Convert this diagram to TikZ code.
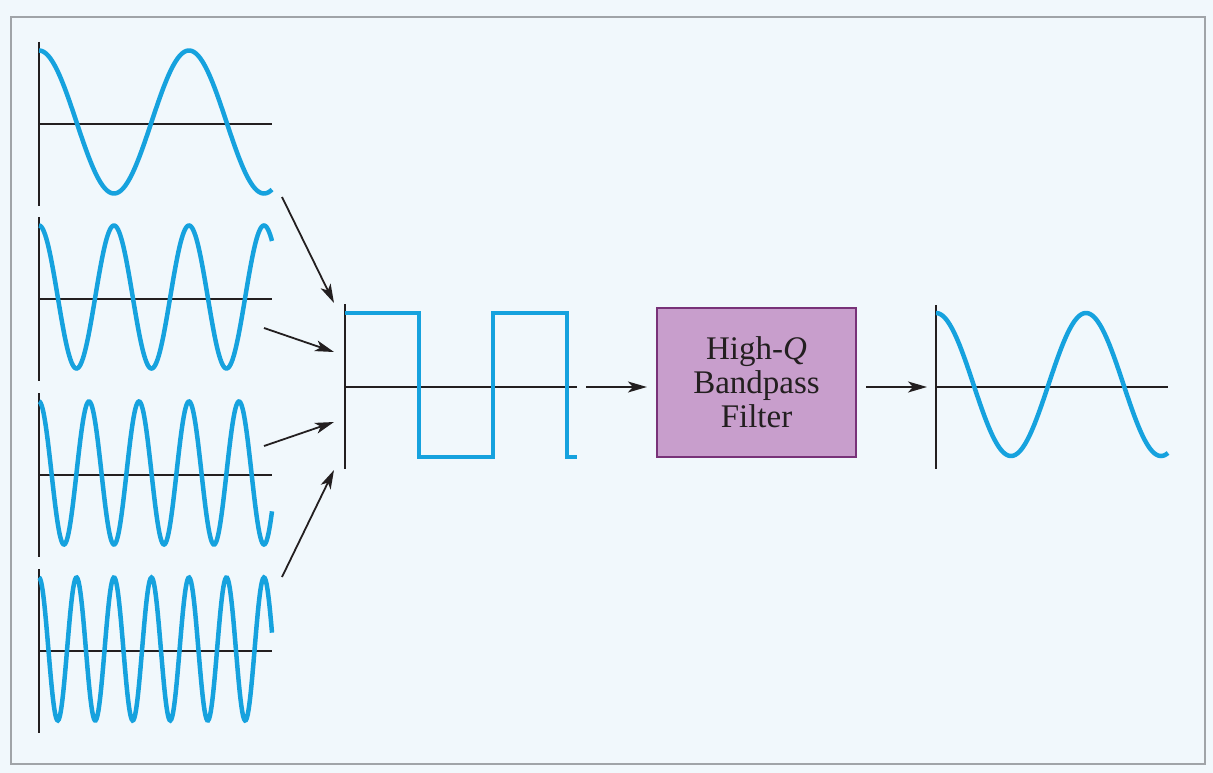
\documentclass[tikz,border=0pt]{standalone}
\usepackage{fontspec}
\setmainfont{Liberation Serif}
\usetikzlibrary{arrows.meta}
\definecolor{bg}{RGB}{241,248,252}
\definecolor{framec}{RGB}{160,164,168}
\definecolor{wv}{RGB}{22,162,222}
\definecolor{ink}{RGB}{35,31,32}
\definecolor{boxfill}{RGB}{200,158,204}
\definecolor{boxline}{RGB}{120,50,120}
\begin{document}
\begin{tikzpicture}[x=1pt,y=-1pt,
  wave/.style={wv, line width=4.5pt},
  axisline/.style={ink, line width=2.2pt},
  arr/.style={ink, line width=1.8pt, -{Stealth[length=19pt,width=11pt,inset=5pt]}},
  filterbox/.style={draw=boxline, fill=boxfill, line width=2.2pt, minimum width=199pt, minimum height=149pt,
     align=center, text=ink, font=\fontsize{33}{34}\selectfont, inner sep=0pt}]
\useasboundingbox (0,0) rectangle (1213,773);
\fill[bg] (0,0) rectangle (1213,773);
\draw[framec, line width=2.2pt] (11,17) rectangle (1205,764);
% input waves
\foreach \k/\c in {1/124, 2/299, 3/475, 4/651} {
  \draw[axisline] (39,\c-82) -- (39,\c+82);
  \draw[axisline] (39,\c) -- (272,\c);
  \draw[wave] plot[domain=0:233, samples=260, variable=\t] ({39+\t}, {\c-2-71.5*cos(2.4*\k*\t)});
}
% square wave
\draw[axisline] (345,304) -- (345,469);
\draw[axisline] (345,387) -- (577,387);
\draw[wave] (345,313) -- (419,313) -- (419,457) -- (493,457) -- (493,313) -- (567,313) -- (567,457) -- (577,457);
% arrows into the sum
\coordinate (s1) at (282,197); \coordinate (t1) at (334,303);
\coordinate (s2) at (264,328); \coordinate (t2) at (334,352);
\coordinate (s3) at (264,446); \coordinate (t3) at (334,422);
\coordinate (s4) at (282,577); \coordinate (t4) at (334,470);
\draw[arr] (s1) -- (t1);
\draw[arr] (s2) -- (t2);
\draw[arr] (s3) -- (t3);
\draw[arr] (s4) -- (t4);
% filter
\node[filterbox] (filt) at (756.5,382.5) {High-\textit{Q}\\Bandpass\\Filter};
\coordinate (sqend) at (586,387);
\coordinate (outax) at (936,387);
\draw[arr, shorten >=9pt] (sqend) -- (filt.west |- sqend);
\draw[arr, shorten <=9pt, shorten >=9pt] (filt.east |- outax) -- (outax);
% output wave
\draw[axisline] (936,305) -- (936,469);
\draw[axisline] (936,387) -- (1168,387);
\draw[wave] plot[domain=0:232, samples=200, variable=\t] ({936+\t}, {384.5-71.5*cos(2.4*\t)});
\end{tikzpicture}
\end{document}
